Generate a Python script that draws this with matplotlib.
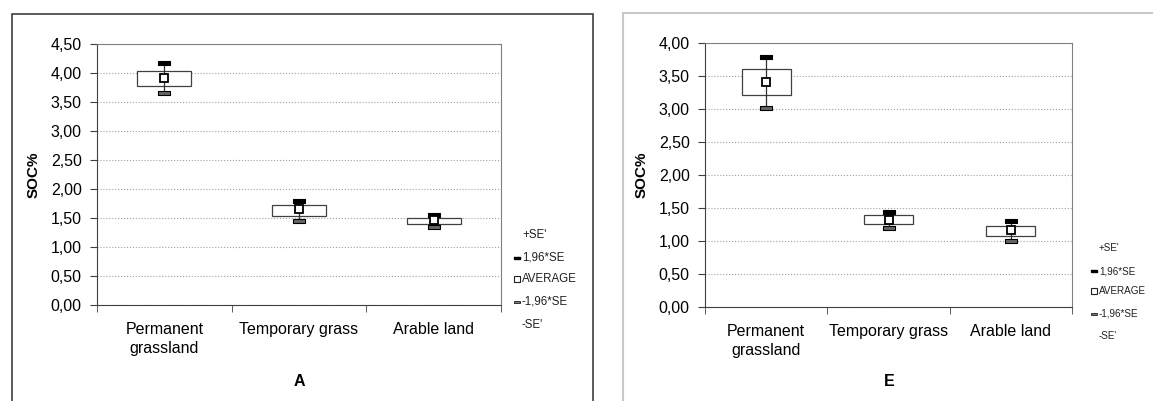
import numpy as np
import matplotlib.pyplot as plt
from matplotlib.lines import Line2D
from matplotlib.patches import Rectangle

plt.rcParams['font.family'] = ['Liberation Sans', 'DejaVu Sans']

categories = ["Permanent\ngrassland", "Temporary grass", "Arable land"]

# panel A
a_mean = [3.92, 1.65, 1.46]
a_se_hi = [4.03, 1.72, 1.50]
a_se_lo = [3.78, 1.53, 1.40]
a_ci_hi = [4.17, 1.80, 1.55]
a_ci_lo = [3.65, 1.45, 1.35]
a_ticks = [0, 0.5, 1, 1.5, 2, 2.5, 3, 3.5, 4, 4.5]

# panel E
e_mean = [3.41, 1.32, 1.17]
e_se_hi = [3.60, 1.39, 1.23]
e_se_lo = [3.21, 1.25, 1.07]
e_ci_hi = [3.79, 1.44, 1.31]
e_ci_lo = [3.02, 1.19, 1.00]
e_ticks = [0, 0.5, 1, 1.5, 2, 2.5, 3, 3.5, 4]

legend_labels = ["+SE'", "1,96*SE", "AVERAGE", "-1,96*SE", "-SE'"]

W, H = 1153, 401
fig = plt.figure(figsize=(W / 100, H / 100), dpi=100)

cap = [(-1, -0.32), (1, -0.32), (1, 0.32), (-1, 0.32), (-1, -0.32)]


def fx(x):
    return x / W


def fy(y):
    return 1 - y / H


def panel(rect, mean, se_hi, se_lo, ci_hi, ci_lo, ticks):
    ax = fig.add_axes(rect)
    x = np.arange(len(categories))
    ax.bar(x, np.array(se_hi) - np.array(se_lo), bottom=se_lo, width=0.4,
           color='white', edgecolor='#404040', linewidth=0.9, zorder=2)
    ax.vlines(x, ci_lo, ci_hi, color='#303030', linewidth=0.9, zorder=3)
    ax.plot(x, ci_hi, ls='none', marker=cap, markersize=8, color='black',
            markeredgewidth=0.8, zorder=4)
    ax.plot(x, ci_lo, ls='none', marker=cap, markersize=8, markerfacecolor='#666666',
            markeredgecolor='black', markeredgewidth=0.8, zorder=4)
    ax.plot(x, mean, ls='none', marker='s', markersize=5.2, markerfacecolor='white',
            markeredgecolor='black', markeredgewidth=1.3, zorder=5)
    ax.set_xlim(-0.5, len(categories) - 0.5)
    ax.set_ylim(ticks[0], ticks[-1])
    ax.set_yticks(ticks)
    ax.set_yticklabels([f"{t:.2f}".replace('.', ',') for t in ticks], fontsize=11.5)
    ax.set_xticks(x)
    ax.set_xticklabels(categories, fontsize=11.5, linespacing=1.35)
    ax.set_xticks(np.arange(len(categories) + 1) - 0.5, minor=True)
    ax.tick_params(axis='x', which='major', length=0, pad=12)
    ax.tick_params(axis='x', which='minor', length=5, direction='out', color='#404040')
    ax.tick_params(axis='y', length=5, direction='out', pad=6, color='#404040')
    ax.grid(axis='y', linestyle=':', color='#a0a0a0', linewidth=0.8)
    ax.set_axisbelow(True)
    for s in ['left', 'bottom']:
        ax.spines[s].set_color('#404040')
    for s in ['top', 'right']:
        ax.spines[s].set_color('#808080')
    ax.set_ylabel("SOC%", fontsize=11, fontweight='bold', labelpad=7)
    return ax


panel([fx(97), fy(305), fx(501 - 97), (305 - 44) / H],
      a_mean, a_se_hi, a_se_lo, a_ci_hi, a_ci_lo, a_ticks)
panel([fx(705), fy(307), fx(1072 - 705), (307 - 43) / H],
      e_mean, e_se_hi, e_se_lo, e_ci_hi, e_ci_lo, e_ticks)

fig.text(fx(299), fy(382), "A", fontsize=11.5, fontweight='bold', ha='center', va='center')
fig.text(fx(889), fy(382), "E", fontsize=11.5, fontweight='bold', ha='center', va='center')

# panel frames
fig.add_artist(Rectangle((fx(12), -0.1), fx(593 - 12), fy(14) + 0.1, fill=False,
                         edgecolor='#404040', linewidth=1.2, transform=fig.transFigure))
fig.add_artist(Rectangle((fx(623), -0.1), 0.5, fy(13) + 0.1, fill=False,
                         edgecolor='#c8c8c8', linewidth=1.5, transform=fig.transFigure))


def key(x0, ys, size):
    for lab, y in zip(legend_labels, ys):
        fig.text(fx(x0 + 5), fy(y), lab, fontsize=size, ha='left', va='center', color='#202020')
    fig.add_artist(Line2D([fx(x0)], [fy(ys[1])], marker=cap, markersize=5, color='black',
                          transform=fig.transFigure))
    fig.add_artist(Line2D([fx(x0)], [fy(ys[2])], marker='s', markersize=4.5,
                          markerfacecolor='white', markeredgecolor='#202020',
                          markeredgewidth=0.8, transform=fig.transFigure))
    fig.add_artist(Line2D([fx(x0)], [fy(ys[3])], marker=cap, markersize=5,
                          markerfacecolor='#777777', markeredgecolor='#202020',
                          markeredgewidth=0.6, transform=fig.transFigure))


key(517, [235, 258, 279, 302, 325], 8.3)
key(1094, [248, 271, 291, 314, 336], 7.1)

fig.savefig("out.png", dpi=100)
